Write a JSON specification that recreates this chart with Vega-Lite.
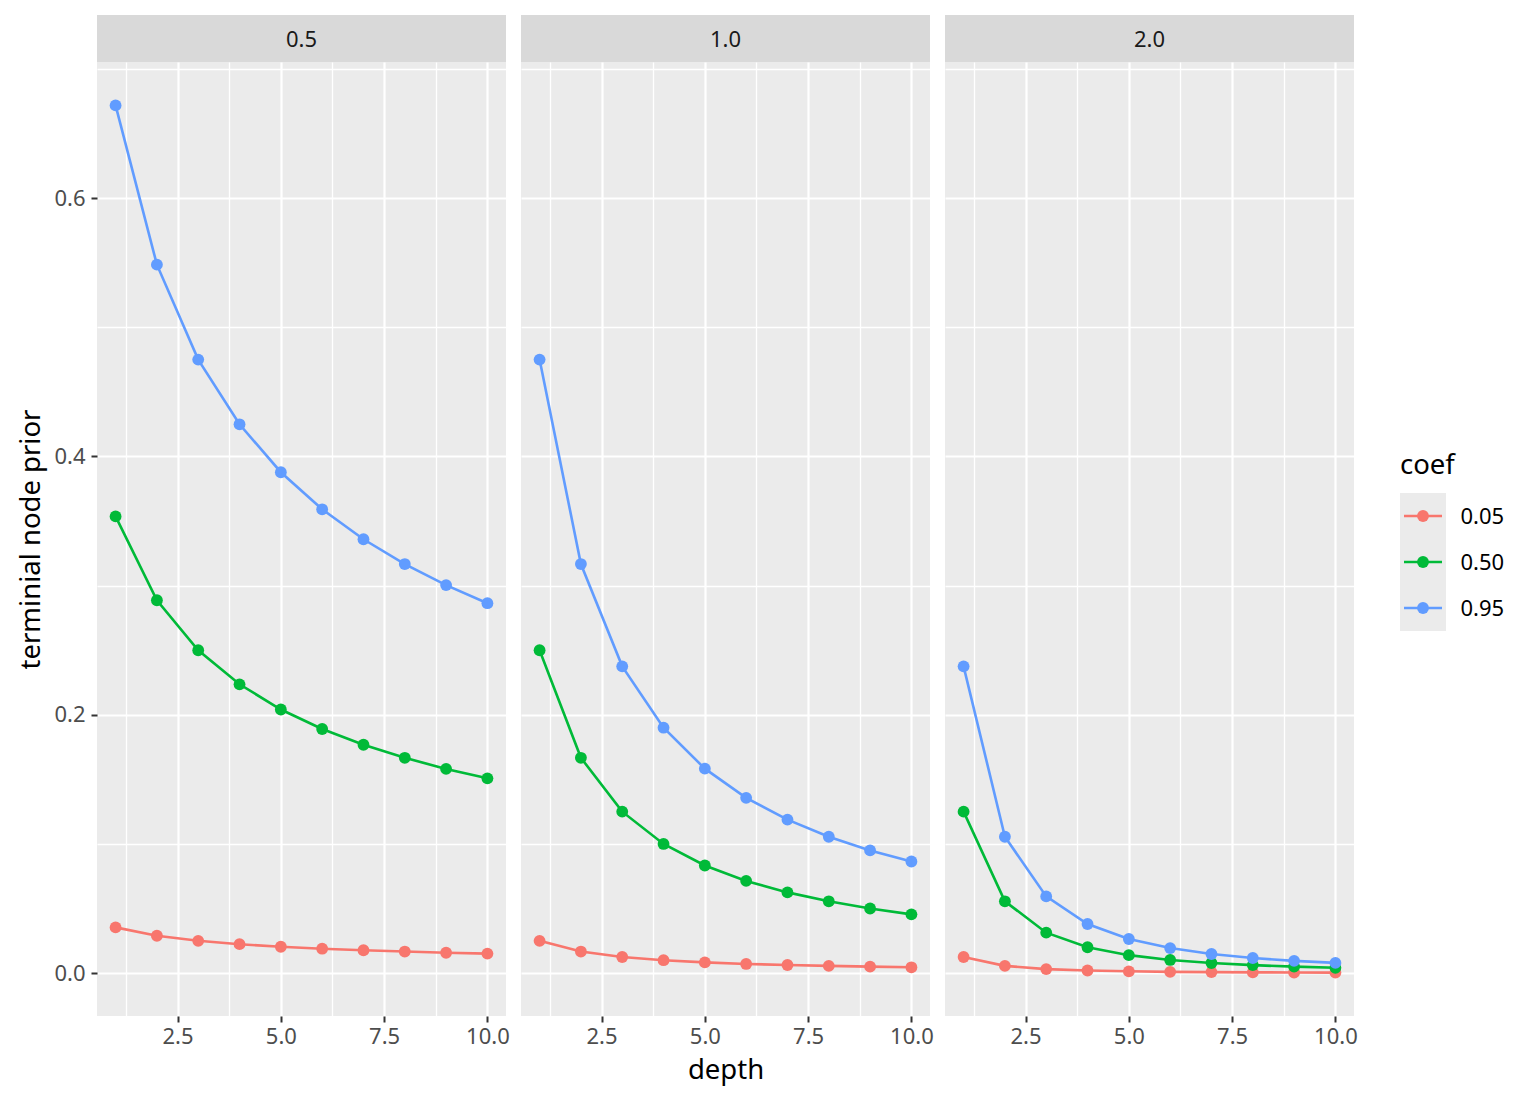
{
  "$schema": "https://vega.github.io/schema/vega-lite/v6.json",
  "description": "Terminal node prior by depth, faceted by power",
  "padding": {"left": 17, "top": 15, "right": 5, "bottom": 5},
  "datasets": {
    "prior": [
      {"power": "0.5", "coef": "0.05", "depth": 1, "prior": 0.0354},
      {"power": "0.5", "coef": "0.05", "depth": 2, "prior": 0.0289},
      {"power": "0.5", "coef": "0.05", "depth": 3, "prior": 0.0250},
      {"power": "0.5", "coef": "0.05", "depth": 4, "prior": 0.0224},
      {"power": "0.5", "coef": "0.05", "depth": 5, "prior": 0.0204},
      {"power": "0.5", "coef": "0.05", "depth": 6, "prior": 0.0189},
      {"power": "0.5", "coef": "0.05", "depth": 7, "prior": 0.0177},
      {"power": "0.5", "coef": "0.05", "depth": 8, "prior": 0.0167},
      {"power": "0.5", "coef": "0.05", "depth": 9, "prior": 0.0158},
      {"power": "0.5", "coef": "0.05", "depth": 10, "prior": 0.0151},
      {"power": "0.5", "coef": "0.50", "depth": 1, "prior": 0.3536},
      {"power": "0.5", "coef": "0.50", "depth": 2, "prior": 0.2887},
      {"power": "0.5", "coef": "0.50", "depth": 3, "prior": 0.2500},
      {"power": "0.5", "coef": "0.50", "depth": 4, "prior": 0.2236},
      {"power": "0.5", "coef": "0.50", "depth": 5, "prior": 0.2041},
      {"power": "0.5", "coef": "0.50", "depth": 6, "prior": 0.1890},
      {"power": "0.5", "coef": "0.50", "depth": 7, "prior": 0.1768},
      {"power": "0.5", "coef": "0.50", "depth": 8, "prior": 0.1667},
      {"power": "0.5", "coef": "0.50", "depth": 9, "prior": 0.1581},
      {"power": "0.5", "coef": "0.50", "depth": 10, "prior": 0.1508},
      {"power": "0.5", "coef": "0.95", "depth": 1, "prior": 0.6718},
      {"power": "0.5", "coef": "0.95", "depth": 2, "prior": 0.5485},
      {"power": "0.5", "coef": "0.95", "depth": 3, "prior": 0.4750},
      {"power": "0.5", "coef": "0.95", "depth": 4, "prior": 0.4249},
      {"power": "0.5", "coef": "0.95", "depth": 5, "prior": 0.3878},
      {"power": "0.5", "coef": "0.95", "depth": 6, "prior": 0.3591},
      {"power": "0.5", "coef": "0.95", "depth": 7, "prior": 0.3359},
      {"power": "0.5", "coef": "0.95", "depth": 8, "prior": 0.3167},
      {"power": "0.5", "coef": "0.95", "depth": 9, "prior": 0.3004},
      {"power": "0.5", "coef": "0.95", "depth": 10, "prior": 0.2864},
      {"power": "1.0", "coef": "0.05", "depth": 1, "prior": 0.0250},
      {"power": "1.0", "coef": "0.05", "depth": 2, "prior": 0.0167},
      {"power": "1.0", "coef": "0.05", "depth": 3, "prior": 0.0125},
      {"power": "1.0", "coef": "0.05", "depth": 4, "prior": 0.0100},
      {"power": "1.0", "coef": "0.05", "depth": 5, "prior": 0.0083},
      {"power": "1.0", "coef": "0.05", "depth": 6, "prior": 0.0071},
      {"power": "1.0", "coef": "0.05", "depth": 7, "prior": 0.0063},
      {"power": "1.0", "coef": "0.05", "depth": 8, "prior": 0.0056},
      {"power": "1.0", "coef": "0.05", "depth": 9, "prior": 0.0050},
      {"power": "1.0", "coef": "0.05", "depth": 10, "prior": 0.0045},
      {"power": "1.0", "coef": "0.50", "depth": 1, "prior": 0.2500},
      {"power": "1.0", "coef": "0.50", "depth": 2, "prior": 0.1667},
      {"power": "1.0", "coef": "0.50", "depth": 3, "prior": 0.1250},
      {"power": "1.0", "coef": "0.50", "depth": 4, "prior": 0.1000},
      {"power": "1.0", "coef": "0.50", "depth": 5, "prior": 0.0833},
      {"power": "1.0", "coef": "0.50", "depth": 6, "prior": 0.0714},
      {"power": "1.0", "coef": "0.50", "depth": 7, "prior": 0.0625},
      {"power": "1.0", "coef": "0.50", "depth": 8, "prior": 0.0556},
      {"power": "1.0", "coef": "0.50", "depth": 9, "prior": 0.0500},
      {"power": "1.0", "coef": "0.50", "depth": 10, "prior": 0.0455},
      {"power": "1.0", "coef": "0.95", "depth": 1, "prior": 0.4750},
      {"power": "1.0", "coef": "0.95", "depth": 2, "prior": 0.3167},
      {"power": "1.0", "coef": "0.95", "depth": 3, "prior": 0.2375},
      {"power": "1.0", "coef": "0.95", "depth": 4, "prior": 0.1900},
      {"power": "1.0", "coef": "0.95", "depth": 5, "prior": 0.1583},
      {"power": "1.0", "coef": "0.95", "depth": 6, "prior": 0.1357},
      {"power": "1.0", "coef": "0.95", "depth": 7, "prior": 0.1188},
      {"power": "1.0", "coef": "0.95", "depth": 8, "prior": 0.1056},
      {"power": "1.0", "coef": "0.95", "depth": 9, "prior": 0.0950},
      {"power": "1.0", "coef": "0.95", "depth": 10, "prior": 0.0864},
      {"power": "2.0", "coef": "0.05", "depth": 1, "prior": 0.0125},
      {"power": "2.0", "coef": "0.05", "depth": 2, "prior": 0.0056},
      {"power": "2.0", "coef": "0.05", "depth": 3, "prior": 0.0031},
      {"power": "2.0", "coef": "0.05", "depth": 4, "prior": 0.0020},
      {"power": "2.0", "coef": "0.05", "depth": 5, "prior": 0.0014},
      {"power": "2.0", "coef": "0.05", "depth": 6, "prior": 0.0010},
      {"power": "2.0", "coef": "0.05", "depth": 7, "prior": 0.0008},
      {"power": "2.0", "coef": "0.05", "depth": 8, "prior": 0.0006},
      {"power": "2.0", "coef": "0.05", "depth": 9, "prior": 0.0005},
      {"power": "2.0", "coef": "0.05", "depth": 10, "prior": 0.0004},
      {"power": "2.0", "coef": "0.50", "depth": 1, "prior": 0.1250},
      {"power": "2.0", "coef": "0.50", "depth": 2, "prior": 0.0556},
      {"power": "2.0", "coef": "0.50", "depth": 3, "prior": 0.0313},
      {"power": "2.0", "coef": "0.50", "depth": 4, "prior": 0.0200},
      {"power": "2.0", "coef": "0.50", "depth": 5, "prior": 0.0139},
      {"power": "2.0", "coef": "0.50", "depth": 6, "prior": 0.0102},
      {"power": "2.0", "coef": "0.50", "depth": 7, "prior": 0.0078},
      {"power": "2.0", "coef": "0.50", "depth": 8, "prior": 0.0062},
      {"power": "2.0", "coef": "0.50", "depth": 9, "prior": 0.0050},
      {"power": "2.0", "coef": "0.50", "depth": 10, "prior": 0.0041},
      {"power": "2.0", "coef": "0.95", "depth": 1, "prior": 0.2375},
      {"power": "2.0", "coef": "0.95", "depth": 2, "prior": 0.1056},
      {"power": "2.0", "coef": "0.95", "depth": 3, "prior": 0.0594},
      {"power": "2.0", "coef": "0.95", "depth": 4, "prior": 0.0380},
      {"power": "2.0", "coef": "0.95", "depth": 5, "prior": 0.0264},
      {"power": "2.0", "coef": "0.95", "depth": 6, "prior": 0.0194},
      {"power": "2.0", "coef": "0.95", "depth": 7, "prior": 0.0148},
      {"power": "2.0", "coef": "0.95", "depth": 8, "prior": 0.0117},
      {"power": "2.0", "coef": "0.95", "depth": 9, "prior": 0.0095},
      {"power": "2.0", "coef": "0.95", "depth": 10, "prior": 0.0079}
    ],
    "strips": [{"power": "0.5"}, {"power": "1.0"}, {"power": "2.0"}],
    "keys": [{"coef": "0.05"}, {"coef": "0.50"}, {"coef": "0.95"}]
  },
  "hconcat": [
    {
      "hconcat": [
        {
          "vconcat": [
            {
              "width": 409, "height": 47,
              "view": {"fill": "#D9D9D9", "stroke": null},
              "data": {"name": "strips"},
              "transform": [{"filter": "datum.power === '0.5'"}],
              "mark": {"type": "text", "fontSize": 22, "color": "#1A1A1A", "dy": 1.5},
              "encoding": {"text": {"field": "power", "type": "nominal"}}
            },
            {
              "width": 409, "height": 954,
              "data": {"name": "prior"},
              "transform": [{"filter": "datum.power === '0.5'"}],
              "layer": [
                {
                  "mark": {"type": "line", "strokeWidth": 2.6},
                  "encoding": {
                    "x": {"field": "depth", "type": "quantitative", "scale": {"domain": [0.55, 10.45], "nice": false, "zero": false},
                      "axis": {"orient": "top", "values": [1.25, 3.75, 6.25, 8.75], "grid": true, "gridColor": "white", "gridWidth": 1.3, "labels": false, "ticks": false, "domain": false, "title": null}},
                    "y": {"field": "prior", "type": "quantitative", "scale": {"domain": [-0.0332, 0.7054], "nice": false, "zero": false},
                      "axis": {"orient": "right", "values": [0.1, 0.3, 0.5, 0.7], "grid": true, "gridColor": "white", "gridWidth": 1.3, "labels": false, "ticks": false, "domain": false, "title": null}},
                    "color": {"field": "coef", "type": "nominal", "scale": {"domain": ["0.05", "0.50", "0.95"], "range": ["#F8766D", "#00BA38", "#619CFF"]}}
                  }
                },
                {
                  "mark": {"type": "point", "filled": true, "opacity": 1, "size": 140},
                  "encoding": {
                    "x": {"field": "depth", "type": "quantitative", "scale": {"domain": [0.55, 10.45], "nice": false, "zero": false},
                      "axis": {"orient": "bottom", "values": [2.5, 5, 7.5, 10], "format": ".1f", "grid": true, "gridColor": "white", "gridWidth": 2.2, "domain": false, "tickColor": "#333333", "tickWidth": 2, "tickSize": 6, "labelColor": "#4D4D4D", "labelFontSize": 22, "labelPadding": 4, "title": null}},
                    "y": {"field": "prior", "type": "quantitative", "scale": {"domain": [-0.0332, 0.7054], "nice": false, "zero": false},
                      "axis": {"orient": "left", "values": [0, 0.2, 0.4, 0.6], "format": ".1f", "grid": true, "gridColor": "white", "gridWidth": 2.2, "domain": false, "tickColor": "#333333", "tickWidth": 2, "tickSize": 6, "labelColor": "#4D4D4D", "labelFontSize": 22, "labelPadding": 6,
                        "title": "terminial node prior", "titleFontSize": 27.5, "titleFontWeight": "normal", "titleColor": "black", "titlePadding": 8}},
                    "color": {"field": "coef", "type": "nominal"}
                  }
                }
              ],
              "resolve": {"axis": {"x": "independent", "y": "independent"}}
            }
          ],
          "spacing": 0
        },
        {
          "vconcat": [
            {
              "width": 409, "height": 47,
              "view": {"fill": "#D9D9D9", "stroke": null},
              "data": {"name": "strips"},
              "transform": [{"filter": "datum.power === '1.0'"}],
              "mark": {"type": "text", "fontSize": 22, "color": "#1A1A1A", "dy": 1.5},
              "encoding": {"text": {"field": "power", "type": "nominal"}}
            },
            {
              "width": 409, "height": 954,
              "data": {"name": "prior"},
              "transform": [{"filter": "datum.power === '1.0'"}],
              "layer": [
                {
                  "mark": {"type": "line", "strokeWidth": 2.6},
                  "encoding": {
                    "x": {"field": "depth", "type": "quantitative", "scale": {"domain": [0.55, 10.45], "nice": false, "zero": false},
                      "axis": {"orient": "top", "values": [1.25, 3.75, 6.25, 8.75], "grid": true, "gridColor": "white", "gridWidth": 1.3, "labels": false, "ticks": false, "domain": false, "title": null}},
                    "y": {"field": "prior", "type": "quantitative", "scale": {"domain": [-0.0332, 0.7054], "nice": false, "zero": false},
                      "axis": {"orient": "right", "values": [0.1, 0.3, 0.5, 0.7], "grid": true, "gridColor": "white", "gridWidth": 1.3, "labels": false, "ticks": false, "domain": false, "title": null}},
                    "color": {"field": "coef", "type": "nominal"}
                  }
                },
                {
                  "mark": {"type": "point", "filled": true, "opacity": 1, "size": 140},
                  "encoding": {
                    "x": {"field": "depth", "type": "quantitative", "scale": {"domain": [0.55, 10.45], "nice": false, "zero": false},
                      "axis": {"orient": "bottom", "values": [2.5, 5, 7.5, 10], "format": ".1f", "grid": true, "gridColor": "white", "gridWidth": 2.2, "domain": false, "tickColor": "#333333", "tickWidth": 2, "tickSize": 6, "labelColor": "#4D4D4D", "labelFontSize": 22, "labelPadding": 4,
                        "title": "depth", "titleFontSize": 27.5, "titleFontWeight": "normal", "titleColor": "black", "titlePadding": 9}},
                    "y": {"field": "prior", "type": "quantitative", "scale": {"domain": [-0.0332, 0.7054], "nice": false, "zero": false},
                      "axis": {"orient": "left", "values": [0, 0.2, 0.4, 0.6], "grid": true, "gridColor": "white", "gridWidth": 2.2, "domain": false, "ticks": false, "labels": false, "title": null}},
                    "color": {"field": "coef", "type": "nominal"}
                  }
                }
              ],
              "resolve": {"axis": {"x": "independent", "y": "independent"}}
            }
          ],
          "spacing": 0
        },
        {
          "vconcat": [
            {
              "width": 409, "height": 47,
              "view": {"fill": "#D9D9D9", "stroke": null},
              "data": {"name": "strips"},
              "transform": [{"filter": "datum.power === '2.0'"}],
              "mark": {"type": "text", "fontSize": 22, "color": "#1A1A1A", "dy": 1.5},
              "encoding": {"text": {"field": "power", "type": "nominal"}}
            },
            {
              "width": 409, "height": 954,
              "data": {"name": "prior"},
              "transform": [{"filter": "datum.power === '2.0'"}],
              "layer": [
                {
                  "mark": {"type": "line", "strokeWidth": 2.6},
                  "encoding": {
                    "x": {"field": "depth", "type": "quantitative", "scale": {"domain": [0.55, 10.45], "nice": false, "zero": false},
                      "axis": {"orient": "top", "values": [1.25, 3.75, 6.25, 8.75], "grid": true, "gridColor": "white", "gridWidth": 1.3, "labels": false, "ticks": false, "domain": false, "title": null}},
                    "y": {"field": "prior", "type": "quantitative", "scale": {"domain": [-0.0332, 0.7054], "nice": false, "zero": false},
                      "axis": {"orient": "right", "values": [0.1, 0.3, 0.5, 0.7], "grid": true, "gridColor": "white", "gridWidth": 1.3, "labels": false, "ticks": false, "domain": false, "title": null}},
                    "color": {"field": "coef", "type": "nominal"}
                  }
                },
                {
                  "mark": {"type": "point", "filled": true, "opacity": 1, "size": 140},
                  "encoding": {
                    "x": {"field": "depth", "type": "quantitative", "scale": {"domain": [0.55, 10.45], "nice": false, "zero": false},
                      "axis": {"orient": "bottom", "values": [2.5, 5, 7.5, 10], "format": ".1f", "grid": true, "gridColor": "white", "gridWidth": 2.2, "domain": false, "tickColor": "#333333", "tickWidth": 2, "tickSize": 6, "labelColor": "#4D4D4D", "labelFontSize": 22, "labelPadding": 4, "title": null}},
                    "y": {"field": "prior", "type": "quantitative", "scale": {"domain": [-0.0332, 0.7054], "nice": false, "zero": false},
                      "axis": {"orient": "left", "values": [0, 0.2, 0.4, 0.6], "grid": true, "gridColor": "white", "gridWidth": 2.2, "domain": false, "ticks": false, "labels": false, "title": null}},
                    "color": {"field": "coef", "type": "nominal"}
                  }
                }
              ],
              "resolve": {"axis": {"x": "independent", "y": "independent"}}
            }
          ],
          "spacing": 0
        }
      ],
      "spacing": 11
    },
    {
      "vconcat": [
        {
          "width": 46, "height": 436,
          "view": {"fill": null, "stroke": null},
          "data": {"name": "keys"},
          "transform": [{"filter": "false"}],
          "mark": "point"
        },
        {
          "width": 46, "height": 138,
          "title": {"text": "coef", "anchor": "start", "fontSize": 27.5, "fontWeight": "normal", "color": "black", "offset": 14},
          "data": {"name": "keys"},
          "layer": [
            {
              "mark": {"type": "rule", "strokeWidth": 2.6},
              "encoding": {
                "x": {"datum": 0.087, "type": "quantitative", "scale": {"domain": [0, 1], "nice": false, "zero": false}, "axis": null},
                "x2": {"datum": 0.913},
                "y": {"field": "coef", "type": "nominal", "scale": {"type": "point", "padding": 0.5},
                  "axis": {"orient": "right", "ticks": false, "domain": false, "grid": false, "labelPadding": 14, "labelFontSize": 22, "labelColor": "black", "title": null}},
                "color": {"field": "coef", "type": "nominal"}
              }
            },
            {
              "mark": {"type": "point", "filled": true, "opacity": 1, "size": 140},
              "encoding": {
                "x": {"datum": 0.5, "type": "quantitative"},
                "y": {"field": "coef", "type": "nominal"},
                "color": {"field": "coef", "type": "nominal"}
              }
            }
          ]
        }
      ],
      "spacing": 0
    }
  ],
  "spacing": 42,
  "config": {
    "font": "Noto Sans",
    "background": "white",
    "view": {"fill": "#EBEBEB", "stroke": null},
    "legend": {"disable": true}
  }
}
